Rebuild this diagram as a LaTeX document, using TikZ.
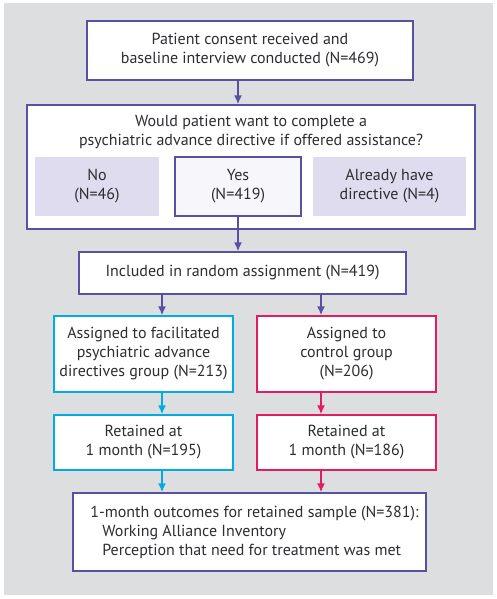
\documentclass[tikz,border=0pt]{standalone}
\usepackage{fontspec}
\setmainfont{PT Sans}
\usepackage{xcolor}
\usetikzlibrary{arrows.meta, positioning, calc}
\definecolor{flowpurple}{RGB}{88,80,160}
\definecolor{flowcyan}{RGB}{0,172,226}
\definecolor{flowred}{RGB}{226,28,96}
\definecolor{flowlilac}{RGB}{222,220,238}
\definecolor{flowpale}{RGB}{246,246,251}
\definecolor{flowgray}{RGB}{221,222,224}
\definecolor{flowtext}{RGB}{45,45,50}

\begin{document}
\begin{tikzpicture}[x=1pt,y=-1pt,
  font=\fontsize{16}{19}\selectfont, text=flowtext,
  box/.style={draw=flowpurple,fill=white,line width=1.4pt,inner sep=0pt,align=center},
  choice/.style={fill=flowlilac,inner sep=0pt,align=center},
  arr/.style={-{Latex[length=9pt,width=8pt]},line width=1.6pt}]
\useasboundingbox (0,0) rectangle (497,599);
\fill[flowgray] (4,3) rectangle (493,595);

% Enrolment and preference
\node[box,minimum width=326,minimum height=59] (consent) at (250,50.5)
  {Patient consent received and\\baseline interview conducted (N=469)};
\node[box,minimum width=448,minimum height=124] (question) at (251,167) {};
\node[align=center] (ask) at (251,132)
  {Would patient want to complete a\\psychiatric advance directive if offered assistance?};
\node[choice,minimum width=124,minimum height=59] (no) at (97,186.5) {No\\(N=46)};
\node[box,fill=flowpale,line width=2.2pt,minimum width=126,minimum height=59] (yes) at (238,186.5) {Yes\\(N=419)};
\node[choice,minimum width=153,minimum height=59] (already) at (389.5,186.5) {Already have\\directive (N=4)};

% Randomisation
\node[box,minimum width=327,minimum height=42] (included) at (242.5,273)
  {Included in random assignment (N=419)};
\node[box,draw=flowcyan,minimum width=179,minimum height=76] (fac) at (143.5,354)
  {Assigned to facilitated\\psychiatric advance\\directives group (N=213)};
\node[box,draw=flowred,minimum width=179,minimum height=76] (ctrl) at (346.5,354)
  {Assigned to\\control group\\(N=206)};
\node[box,draw=flowcyan,minimum width=179,minimum height=55] (facret) at (143.5,442.5)
  {Retained at\\1 month (N=195)};
\node[box,draw=flowred,minimum width=179,minimum height=55] (ctrlret) at (346.5,442.5)
  {Retained at\\1 month (N=186)};
\node[box,align=left,minimum width=353,minimum height=78] (outcome) at (249.5,532)
  {\hspace*{10pt}1-month outcomes for retained sample (N=381):\\
   \hspace*{22pt}Working Alliance Inventory\\
   \hspace*{22pt}Perception that need for treatment was met};

% Arrows
\coordinate (lx) at (162,0);
\coordinate (rx) at (321,0);
\draw[arr,flowpurple] (consent.south -| yes) -- (question.north -| yes);
\draw[arr,flowpurple] (yes.south) -- (included.north -| yes);
\draw[arr,flowpurple] (included.south -| lx) -- (fac.north -| lx);
\draw[arr,flowpurple] (included.south -| rx) -- (ctrl.north -| rx);
\draw[arr,flowcyan] (fac.south -| lx) -- (facret.north -| lx);
\draw[arr,flowred] (ctrl.south -| rx) -- (ctrlret.north -| rx);
\draw[arr,flowcyan] (facret.south -| lx) -- (outcome.north -| lx);
\draw[arr,flowred] (ctrlret.south -| rx) -- (outcome.north -| rx);
\end{tikzpicture}
\end{document}
